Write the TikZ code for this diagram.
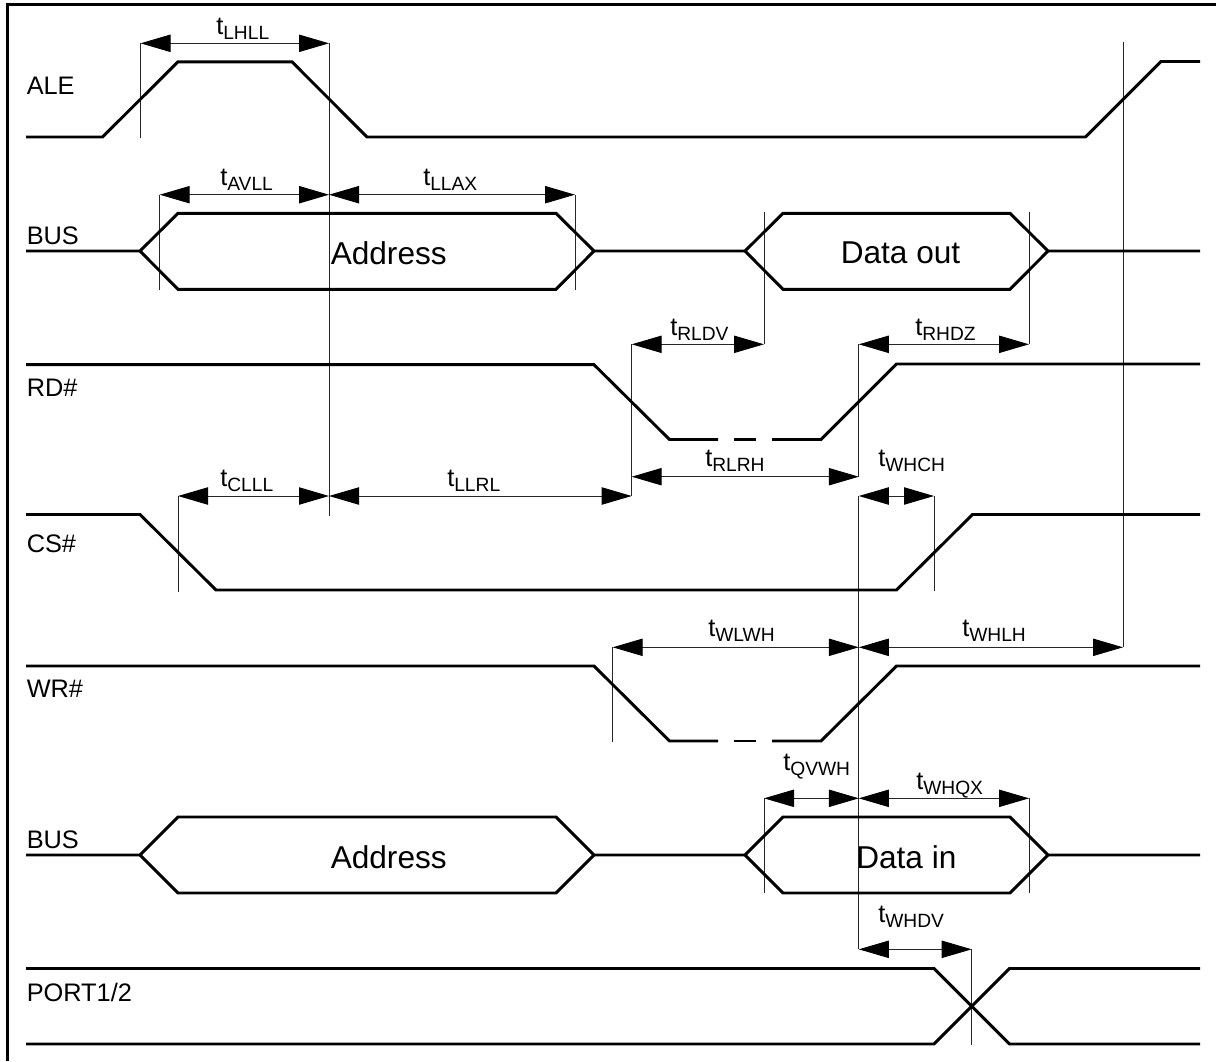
\documentclass[tikz,border=0pt]{standalone}
\usepackage{fontspec}
\setmainfont{Liberation Sans}
\usetikzlibrary{arrows.meta}
\tikzset{
  sig/.style={line width=2.2pt,line join=miter,line cap=butt,black},
  frameline/.style={line width=2.4pt,black},
  extline/.style={line width=0.75pt,black!85},
  dimarrow/.style={line width=0.75pt,black!85,{Triangle[length=22.5pt,width=13pt,black]}-{Triangle[length=22.5pt,width=13pt,black]}},
  siglabel/.style={anchor=base west,inner sep=0pt,font=\fontsize{19}{21}\selectfont},
  biglabel/.style={anchor=base west,inner sep=0pt,font=\fontsize{23.7}{26}\selectfont},
  timelabel/.style={anchor=base west,inner sep=0pt,font=\fontsize{19}{21}\selectfont},
}
% name, x1, x2, y
\newcommand\dimspan[4]{%
  \coordinate (#1a) at (#2,#4);
  \coordinate (#1b) at (#3,#4);
  \draw[dimarrow] (#1a) -- (#1b);}
% name, x, y1, y2
\newcommand\extspan[4]{%
  \coordinate (#1a) at (#2,#3);
  \coordinate (#1b) at (#2,#4);
  \draw[extline] (#1a) -- (#1b);}
% name, x, baseline, subscript
\newcommand\tlabel[4]{%
  \node[timelabel] (#1) at (#2,#3) {t\raisebox{-4.4pt}{\fontsize{14.4}{16}\selectfont #4}};}
\begin{document}
\begin{tikzpicture}[x=0.75pt,y=-0.75pt]
\useasboundingbox (0,0) rectangle (1216,1061);
\fill[white] (0,0) rectangle (1216,1061);
\draw[frameline] (7.5,1061) -- (7.5,4.5) -- (1216,4.5);

% extension lines
\extspan{e1}{140.5}{43.3}{138}
\extspan{e2}{329}{43.3}{516}
\extspan{e3}{159.7}{194.7}{290}
\extspan{e4}{575}{194.7}{290}
\extspan{e5}{764}{212}{344.3}
\extspan{e6}{1029}{212}{344.3}
\extspan{e7}{631.7}{344.3}{496}
\extspan{e8}{858.8}{344.3}{476.7}
\extspan{e9}{858.8}{496}{949.3}
\extspan{e10}{178}{496}{592}
\extspan{e11}{934}{496}{591}
\extspan{e12}{612.7}{647.3}{742}
\extspan{e13}{1123}{42}{647.3}
\extspan{e14}{764}{798.3}{893}
\extspan{e15}{1029}{798.3}{893}
\extspan{e16}{971.7}{949.3}{1044.5}

% waveforms
\draw[sig] (26,137) -- (102.5,137) -- (178,61.8) -- (292,61.8) -- (367,137) -- (1085.5,137) -- (1161,61.5) -- (1200,61.5);
% BUS 1
\draw[sig] (26,251) -- (140,251) -- (178,213.3) -- (556,213.3) -- (594,251) -- (745,251) -- (783,213.3) -- (1010,213.3) -- (1048,251) -- (1200,251);
\draw[sig] (140,251) -- (178,289.3) -- (556,289.3) -- (594,251);
\draw[sig] (745,251) -- (783,289.3) -- (1010,289.3) -- (1048,251);
% RD#
\draw[sig] (26,364.7) -- (594,364.7) -- (669.5,439.5) -- (718,439.5);
\draw[sig] (734,439.5) -- (756,439.5);
\draw[sig] (772,439.5) -- (821,439.5) -- (896.5,364) -- (1200,364);
% CS#
\draw[sig] (26,514.5) -- (140,514.5) -- (216,590) -- (896.5,590) -- (972.5,514.5) -- (1200,514.5);
% WR#
\draw[sig] (26,666) -- (594,666) -- (669.5,741) -- (718,741);
\draw[sig] (734,741) -- (756,741);
\draw[sig] (772,741) -- (821,741) -- (896.5,666) -- (1200,666);
% BUS 2
\draw[sig] (26,855) -- (140,855) -- (178,817) -- (556,817) -- (594,855) -- (745,855) -- (783,817) -- (1010,817) -- (1048,855) -- (1200,855);
\draw[sig] (140,855) -- (178,893) -- (556,893) -- (594,855);
\draw[sig] (745,855) -- (783,893) -- (1010,893) -- (1048,855);
% PORT1/2
\draw[sig] (26,968.5) -- (934,968.5) -- (1009.5,1044) -- (1200,1044);
\draw[sig] (26,1044) -- (934,1044) -- (1009.5,968.5) -- (1200,968.5);

% dimension arrows
\dimspan{d1}{140.5}{329}{43.3}
\dimspan{d2}{159.7}{329}{194.7}
\dimspan{d3}{329}{575}{194.7}
\dimspan{d4}{631.7}{764}{344.3}
\dimspan{d5}{858.8}{1029}{344.3}
\dimspan{d6}{631.7}{858.8}{476.7}
\dimspan{d7}{178}{329}{496}
\dimspan{d8}{329}{631.7}{496}
\dimspan{d9}{858.8}{934}{496}
\dimspan{d10}{612.7}{858.8}{647.3}
\dimspan{d11}{858.8}{1123}{647.3}
\dimspan{d12}{764}{858.8}{798.3}
\dimspan{d13}{858.8}{1029}{798.3}
\dimspan{d14}{858.8}{971.7}{949.3}

% signal labels
\node[siglabel] (ale) at (26.5,94) {ALE};
\node[siglabel] (bus1) at (26.5,244.5) {BUS};
\node[siglabel] (rd) at (26.5,396) {RD\#};
\node[siglabel] (cs) at (26.5,552) {CS\#};
\node[siglabel] (wr) at (26.5,697) {WR\#};
\node[siglabel] (bus2) at (26.5,848.5) {BUS};
\node[siglabel] (port) at (26.5,1001) {PORT1/2};

% bus contents
\node[biglabel] (addr1) at (330.5,264) {Address};
\node[biglabel] (dout) at (840.5,263) {Data out};
\node[biglabel] (addr2) at (330.5,868) {Address};
\node[biglabel] (din) at (856,868) {Data in};

% timing labels
\tlabel{t1}{216}{34}{LHLL}
\tlabel{t2}{220}{185}{AVLL}
\tlabel{t3}{423}{185}{LLAX}
\tlabel{t4}{670}{335}{RLDV}
\tlabel{t5}{915}{335}{RHDZ}
\tlabel{t6}{705}{466}{RLRH}
\tlabel{t7}{878}{466}{WHCH}
\tlabel{t8}{220}{486}{CLLL}
\tlabel{t9}{447}{486}{LLRL}
\tlabel{t10}{708}{636}{WLWH}
\tlabel{t11}{962}{636}{WHLH}
\tlabel{t12}{783}{770}{QVWH}
\tlabel{t13}{916}{789}{WHQX}
\tlabel{t14}{878}{922}{WHDV}
\end{tikzpicture}
\end{document}
